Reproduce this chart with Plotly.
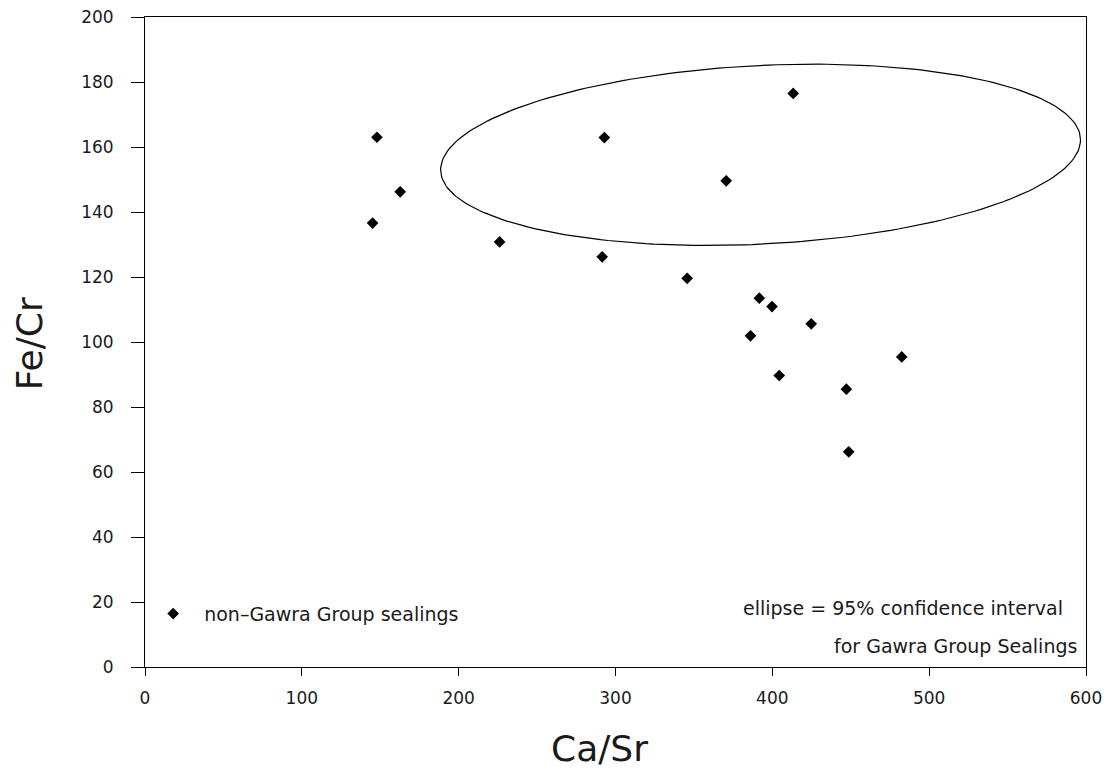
import numpy as np
import plotly.graph_objects as go

# Non-Gawra Group sealings (Ca/Sr, Fe/Cr)
ca_sr = [147.9, 162.7, 145.1, 226.1, 291.5, 292.9, 345.7, 370.6, 413.3,
         386.1, 391.7, 399.8, 404.4, 424.8, 447.2, 448.7, 482.5]
fe_cr = [163.0, 146.2, 136.6, 130.8, 126.2, 162.9, 119.6, 149.6, 176.5,
         101.9, 113.5, 110.9, 89.7, 105.6, 85.5, 66.2, 95.4]

# 95% confidence ellipse for Gawra Group sealings (centre, half-widths, tilt term)
ell_cx, ell_cy = 392.5, 157.6
ell_ax, ell_by, ell_tilt = 204.0, 27.5, 4.6

x_ticks = [0, 100, 200, 300, 400, 500, 600]
y_ticks = [0, 20, 40, 60, 80, 100, 120, 140, 160, 180, 200]

t = np.linspace(0, 2 * np.pi, 241)
ell_x = ell_cx + ell_ax * np.cos(t)
ell_y = ell_cy + ell_by * np.sin(t) + ell_tilt * np.cos(t)

FONT = "DejaVu Sans"
INK = "#1a1a1a"

fig = go.Figure()
fig.add_trace(go.Scatter(x=ell_x, y=ell_y, mode="lines",
                         line=dict(color="black", width=1.2),
                         showlegend=False, hoverinfo="skip"))
fig.add_trace(go.Scatter(x=ca_sr, y=fe_cr, mode="markers",
                         name="non\u2013Gawra Group sealings",
                         marker=dict(symbol="diamond", size=9, color="black")))

fig.update_layout(
    width=1101, height=761,
    margin=dict(l=137, r=23, t=9, b=102),
    paper_bgcolor="white", plot_bgcolor="white",
    font=dict(family=FONT, color=INK),
    showlegend=True,
    legend=dict(x=-0.003, y=0.082, xanchor="left", yanchor="middle",
                bgcolor="rgba(0,0,0,0)", font=dict(size=19, family=FONT, color=INK),
                itemwidth=52),
    xaxis=dict(range=[0, 600], tickvals=x_ticks, ticks="outside", ticklen=8,
               tickwidth=1, tickcolor="black", showline=True, linecolor="black",
               linewidth=1, mirror=True, showgrid=False, zeroline=False,
               ticklabelstandoff=8, ticklabeloverflow="allow", automargin=False,
               tickfont=dict(size=17, family=FONT, color=INK)),
    yaxis=dict(range=[0, 200], tickvals=y_ticks, ticks="outside", ticklen=13,
               tickwidth=1, tickcolor="black", showline=True, linecolor="black",
               linewidth=1, mirror=True, showgrid=False, zeroline=False,
               ticklabelstandoff=14, ticklabeloverflow="allow", automargin=False,
               tickfont=dict(size=17, family=FONT, color=INK)),
    annotations=[
        dict(text="Ca/Sr", xref="paper", yref="paper", x=0.4835, y=-0.126,
             xanchor="center", yanchor="middle", showarrow=False,
             font=dict(size=36, family=FONT, color=INK)),
        dict(text="Fe/Cr", xref="paper", yref="paper", x=-0.122, y=0.497,
             xanchor="center", yanchor="middle", showarrow=False, textangle=-90,
             font=dict(size=36, family=FONT, color=INK)),
        dict(text="ellipse = 95% confidence interval", xref="paper", yref="paper",
             x=0.978, y=0.091, xanchor="right", yanchor="middle", showarrow=False,
             font=dict(size=19, family=FONT, color=INK)),
        dict(text="for Gawra Group Sealings", xref="paper", yref="paper",
             x=0.9925, y=0.032, xanchor="right", yanchor="middle", showarrow=False,
             font=dict(size=19, family=FONT, color=INK)),
    ],
)

fig.write_html("out.html")
